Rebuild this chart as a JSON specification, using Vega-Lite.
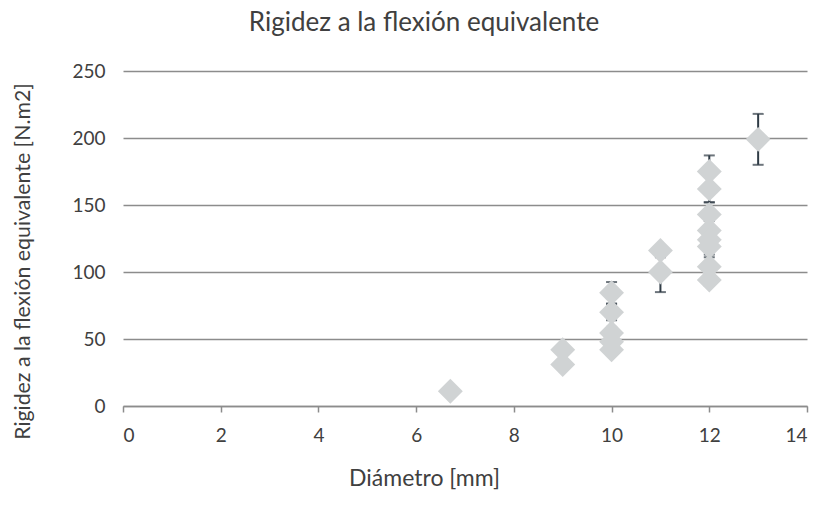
{
  "$schema": "https://vega.github.io/schema/vega-lite/v6.json",
  "autosize": {"type": "none"},
  "width": 684,
  "height": 335,
  "padding": {"left": 123, "top": 71, "right": 12, "bottom": 110},
  "background": "white",
  "title": {"text": "Rigidez a la flexión equivalente", "fontSize": 26, "font": "Lato", "fontWeight": "normal", "color": "#404040", "offset": 26, "dx": -41},
  "config": {
    "view": {"stroke": null},
    "font": "Lato"
  },
  "data": {"values": [
    {"d": 6.7, "r": 11, "lo": 10, "hi": 12},
    {"d": 9, "r": 42, "lo": 39, "hi": 45},
    {"d": 9, "r": 31, "lo": 28, "hi": 34},
    {"d": 10, "r": 84.5, "lo": 76.5, "hi": 92.5},
    {"d": 10, "r": 70, "lo": 64, "hi": 76},
    {"d": 10, "r": 54.5, "lo": 50, "hi": 59},
    {"d": 10, "r": 48, "lo": 44, "hi": 52},
    {"d": 10, "r": 42, "lo": 38, "hi": 46},
    {"d": 11, "r": 116, "lo": 111, "hi": 120},
    {"d": 11, "r": 100, "lo": 85, "hi": 115},
    {"d": 12, "r": 175, "lo": 163, "hi": 187},
    {"d": 12, "r": 162, "lo": 152, "hi": 172},
    {"d": 12, "r": 143, "lo": 134, "hi": 152},
    {"d": 12, "r": 131, "lo": 124, "hi": 138},
    {"d": 12, "r": 124, "lo": 118, "hi": 130},
    {"d": 12, "r": 119, "lo": 113, "hi": 125},
    {"d": 12, "r": 104, "lo": 97, "hi": 111},
    {"d": 12, "r": 94, "lo": 90, "hi": 98},
    {"d": 13, "r": 199, "lo": 180, "hi": 218}
  ]},
  "encoding": {
    "x": {"field": "d", "type": "quantitative", "scale": {"domain": [0, 14], "nice": false},
      "axis": {"title": "Diámetro [mm]", "values": [0,2,4,6,8,10,12,14], "grid": false, "domainColor": "#8c8c8c", "domainWidth": 1.5, "tickColor": "#8c8c8c", "tickWidth": 1.5, "tickSize": 6, "labelFontSize": 19, "labelColor": "#404040", "labelPadding": 14, "titleFontSize": 23, "titleFontWeight": "normal", "titleColor": "#404040", "titlePadding": 22, "titleX": 301, "labelFont": "Lato", "titleFont": "Lato"}}
  },
  "layer": [
    {
      "mark": {"type": "rule", "color": "#2f3b45", "strokeWidth": 2},
      "encoding": {
        "y": {"field": "lo", "type": "quantitative", "scale": {"domain": [0, 250], "nice": false},
          "axis": {"title": "Rigidez a la flexión equivalente [N.m2]", "values": [0,50,100,150,200,250], "grid": true, "gridColor": "#8c8c8c", "gridWidth": 1.5, "domain": false, "ticks": false, "labelFontSize": 19, "labelColor": "#404040", "labelPadding": 18, "titleFontSize": 21.3, "titleFontWeight": "normal", "titleColor": "#404040", "titlePadding": 38, "titleY": 190, "labelFont": "Lato", "titleFont": "Lato"}},
        "y2": {"field": "hi"}
      }
    },
    {
      "mark": {"type": "tick", "color": "#2f3b45", "orient": "horizontal", "size": 11, "thickness": 2},
      "encoding": {"y": {"field": "lo", "type": "quantitative"}}
    },
    {
      "mark": {"type": "tick", "color": "#2f3b45", "orient": "horizontal", "size": 11, "thickness": 2},
      "encoding": {"y": {"field": "hi", "type": "quantitative"}}
    },
    {
      "mark": {"type": "point", "shape": "diamond", "filled": true, "color": "#d0d3d4", "opacity": 1, "size": 620},
      "encoding": {"y": {"field": "r", "type": "quantitative"}}
    }
  ]
}
